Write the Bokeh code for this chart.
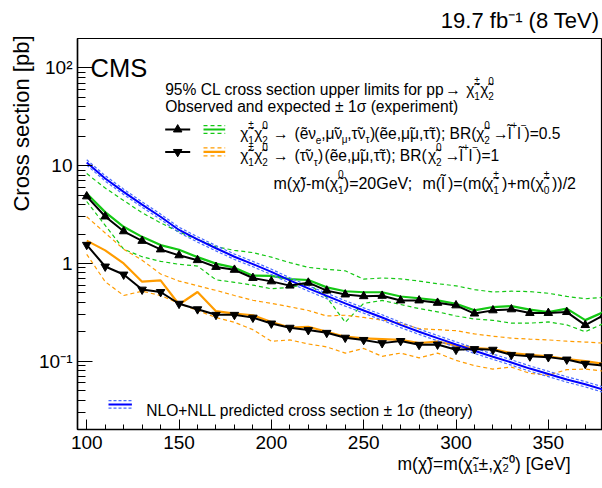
import math
from bokeh.plotting import figure
from bokeh.models import Label, FixedTicker, CustomJSTickFormatter, Range1d, Title
from bokeh.embed import file_html
from bokeh.resources import INLINE

# ---------------- data ----------------
mass = [100, 110, 120, 130, 140, 150, 160, 170, 180, 190, 200, 210, 220, 230, 240,
        250, 260, 270, 280, 290, 300, 310, 320, 330, 340, 350, 360, 370, 380]

# BR(chi2 -> ll) = 0.5: observed (black, up triangles), expected (green) and +-1 sigma
obs_br05 = [4.85, 3.02, 2.13, 1.70, 1.39, 1.21, 1.08, 0.92, 0.86, 0.71, 0.655, 0.593, 0.635, 0.527, 0.481,
            0.462, 0.466, 0.418, 0.418, 0.395, 0.372, 0.307, 0.331, 0.339, 0.311, 0.311, 0.318, 0.234, 0.295]
exp_br05 = [5.19, 3.35, 2.37, 1.87, 1.54, 1.38, 1.16, 0.995, 0.905, 0.75, 0.745, 0.692, 0.677, 0.569, 0.519,
            0.507, 0.507, 0.459, 0.44, 0.418, 0.387, 0.331, 0.358, 0.366, 0.337, 0.318, 0.345, 0.263, 0.318]
exp_br05_up = [8.3, 5.9, 4.4, 3.3, 2.6, 2.1, 1.75, 1.48, 1.36, 1.29, 1.16, 1.02, 0.91, 0.87, 0.84,
               0.69, 0.71, 0.695, 0.66, 0.62, 0.59, 0.54, 0.51, 0.52, 0.515, 0.495, 0.46, 0.435, 0.45]
exp_br05_dn = [4.3, 2.45, 1.4, 1.17, 1.05, 0.98, 0.94, 0.68, 0.64, 0.60, 0.55, 0.57, 0.62, 0.45, 0.25,
               0.39, 0.418, 0.38, 0.345, 0.32, 0.29, 0.27, 0.262, 0.245, 0.245, 0.252, 0.235, 0.20, 0.243]

# BR(chi2 -> ll) = 1: observed (black, down triangles), expected (orange) and +-1 sigma
obs_br1 = [1.55, 0.93, 0.77, 0.54, 0.51, 0.387, 0.34, 0.298, 0.298, 0.279, 0.243, 0.22, 0.208, 0.195, 0.174,
           0.165, 0.153, 0.161, 0.147, 0.148, 0.131, 0.133, 0.131, 0.116, 0.112, 0.11, 0.104, 0.094, 0.09]
exp_br1 = [1.71, 1.36, 1.0, 0.65, 0.67, 0.38, 0.51, 0.325, 0.307, 0.295, 0.252, 0.221, 0.225, 0.2, 0.178,
           0.171, 0.168, 0.165, 0.153, 0.159, 0.144, 0.136, 0.133, 0.121, 0.116, 0.112, 0.105, 0.10, 0.094]
exp_br1_up = [3.0, 2.05, 1.40, 1.08, 0.78, 0.66, 0.59, 0.53, 0.47, 0.42, 0.39, 0.36, 0.33, 0.29, 0.295,
              0.28, 0.263, 0.245, 0.215, 0.21, 0.205, 0.19, 0.18, 0.172, 0.168, 0.165, 0.16, 0.157, 0.153]
exp_br1_dn = [1.24, 0.65, 0.47, 0.52, 0.47, 0.39, 0.33, 0.28, 0.25, 0.21, 0.16, 0.165, 0.15, 0.14, 0.121,
              0.135, 0.112, 0.121, 0.108, 0.121, 0.102, 0.09, 0.083, 0.087, 0.075, 0.072, 0.082, 0.083, 0.079]

# NLO+NLL theory cross section and its relative uncertainty
theory = [10.8, 7.4, 5.4, 4.0, 3.0, 2.2, 1.76, 1.43, 1.17, 0.985, 0.82, 0.67, 0.555, 0.465, 0.39,
          0.33, 0.28, 0.235, 0.20, 0.172, 0.148, 0.128, 0.111, 0.097, 0.084, 0.074, 0.065, 0.058, 0.051]
theory_rel_unc = [0.065, 0.065, 0.065, 0.065, 0.065, 0.065, 0.065, 0.065, 0.065, 0.065, 0.065, 0.065,
                  0.065, 0.065, 0.065, 0.065, 0.065, 0.065, 0.065, 0.065, 0.065, 0.065, 0.065, 0.065,
                  0.065, 0.065, 0.065, 0.065, 0.065]

x_major_ticks = [100, 150, 200, 250, 300, 350]
x_minor_ticks = [110, 120, 130, 140, 160, 170, 180, 190, 210, 220, 230, 240, 260, 270, 280, 290,
                 310, 320, 330, 340, 360, 370]
y_tick_values = [0.1, 1, 10, 100]
y_tick_labels = ["10\u207b\u00b9", "1", "10", "10\u00b2"]
y_minor_ticks = [0.02, 0.03, 0.04, 0.05, 0.06, 0.07, 0.08, 0.09,
                 0.2, 0.3, 0.4, 0.5, 0.6, 0.7, 0.8, 0.9,
                 2, 3, 4, 5, 6, 7, 8, 9,
                 20, 30, 40, 50, 60, 70, 80, 90, 200]

lumi_text = "19.7 fb\u207b\u00b9 (8 TeV)"
y_title = "Cross section [pb]"
x_title = "m(\u03c7\u0303)=m(\u03c7\u0303\u2081\u00b1,\u03c7\u0303\u2082\u2070) [GeV]"

theory_up = [t * (1 + u) for t, u in zip(theory, theory_rel_unc)]
theory_dn = [t / (1 + u) for t, u in zip(theory, theory_rel_unc)]

# ---------------- layout ----------------
W, H = 602, 488
B_LEFT, B_RIGHT, B_TOP, B_BOTTOM = 77, 0, 35, 59
FW, FH = W - B_LEFT - B_RIGHT, H - B_TOP - B_BOTTOM
X0 = 95.0
X1 = X0 + FW / 1.8464
Y0, Y1 = 0.02, 200.0
LT, LB = math.log10(Y1), math.log10(Y0)

FONT = "Liberation Sans"
BLACK = "#000000"
GREEN = "#14c814"
ORANGE = "#ff9c00"
BLUE = "#0000ff"
BLUE_L = "#4a6cff"
LEG = 15.6  # legend font size


def dx(px):
    return X0 + px * (X1 - X0) / FW


def dy(py):
    return 10 ** (LT - py * (LT - LB) / FH)


p = figure(width=W, height=H, x_range=Range1d(X0, X1), y_range=Range1d(Y0, Y1),
           y_axis_type="log", output_backend="svg", toolbar_location=None,
           min_border_left=B_LEFT, min_border_right=B_RIGHT,
           min_border_top=B_TOP, min_border_bottom=B_BOTTOM)
p.outline_line_color = BLACK
p.outline_line_width = 1.2
p.xgrid.visible = False
p.ygrid.visible = False
p.background_fill_color = "white"
p.border_fill_color = "white"

# luminosity label as the plot title (top right, outside the frame)
p.title.text = lumi_text
p.title.align = "right"
p.title.offset = 3
p.title.standoff = 11
p.title.text_font = FONT
p.title.text_font_size = "22px"
p.title.text_font_style = "normal"
p.title.text_color = BLACK

xa = p.below[0]
xa.ticker = FixedTicker(ticks=x_major_ticks, minor_ticks=x_minor_ticks)
xa.major_tick_in = 10
xa.major_tick_out = 0
xa.minor_tick_in = 5
xa.minor_tick_out = 0
xa.axis_line_width = 1.5
xa.major_tick_line_width = 1
xa.minor_tick_line_width = 1
xa.major_label_text_font = FONT
xa.major_label_text_font_size = "19px"
xa.major_label_text_color = BLACK
xa.major_label_standoff = 6

ya = p.left[0]
ya.ticker = FixedTicker(ticks=y_tick_values, minor_ticks=y_minor_ticks)
ya.formatter = CustomJSTickFormatter(args=dict(vals=y_tick_values, labs=y_tick_labels), code="""
for (let i = 0; i < vals.length; i++) {
  if (Math.abs(Math.log10(vals[i]) - Math.log10(tick)) < 1e-6) return labs[i];
}
return "";
""")
ya.major_tick_in = 15
ya.major_tick_out = 0
ya.minor_tick_in = 8
ya.minor_tick_out = 0
ya.axis_line_width = 1.5
ya.major_tick_line_width = 1
ya.minor_tick_line_width = 1
ya.major_label_text_font = FONT
ya.major_label_text_font_size = "19px"
ya.major_label_text_color = BLACK
ya.major_label_standoff = 5

# axis titles (ROOT style: aligned to the axis ends)
p.add_layout(Title(text=y_title, align="right", offset=-3, standoff=6, text_font=FONT,
                   text_font_size="22px", text_font_style="normal", text_color=BLACK), "left")
p.add_layout(Title(text=x_title, align="right", offset=32, standoff=1, text_font=FONT,
                   text_font_size="17.5px", text_font_style="normal", text_color=BLACK), "below")

# ---------------- curves ----------------
DASH = "4 3"
p.line(mass, exp_br05_up, line_color=GREEN, line_width=1.2, line_dash=DASH)
p.line(mass, exp_br05_dn, line_color=GREEN, line_width=1.2, line_dash=DASH)
p.line(mass, exp_br1_up, line_color=ORANGE, line_width=1.2, line_dash=DASH)
p.line(mass, exp_br1_dn, line_color=ORANGE, line_width=1.2, line_dash=DASH)
p.line(mass, exp_br05, line_color=GREEN, line_width=2.2)
p.line(mass, exp_br1, line_color=ORANGE, line_width=2.2)
p.line(mass, theory_up, line_color=BLUE_L, line_width=1.2, line_dash="3 2")
p.line(mass, theory_dn, line_color=BLUE_L, line_width=1.2, line_dash="3 2")
p.line(mass, theory, line_color=BLUE, line_width=2)
p.line(mass, obs_br05, line_color=BLACK, line_width=2)
p.scatter(mass, obs_br05, marker="triangle", size=8.5, fill_color=BLACK, line_color=BLACK)
p.line(mass, obs_br1, line_color=BLACK, line_width=2)
p.scatter(mass, obs_br1, marker="inverted_triangle", size=8.5, fill_color=BLACK, line_color=BLACK)

# ---------------- rich text helper (labels inside the frame) ----------------
CW = {' ': 278, '%': 889, '(': 333, ')': 333, '+': 584, ',': 278, '-': 333, '.': 278,
      '/': 278, ';': 278, '=': 584, '[': 278, ']': 278, 'B': 667, 'C': 722, 'G': 778, 'L': 556,
      'M': 833, 'N': 722, 'O': 778, 'R': 722, 'S': 667, 'T': 611, 'V': 667, 'E': 667,
      'a': 556, 'b': 556, 'c': 500, 'd': 556, 'e': 556, 'f': 278, 'g': 556, 'h': 556, 'i': 222,
      'k': 500, 'l': 222, 'm': 833, 'n': 556, 'o': 556, 'p': 556, 'r': 333, 's': 500, 't': 278,
      'u': 556, 'v': 500, 'x': 500, 'y': 500, '\u03c7': 520, '\u03bd': 470, '\u03bc': 560,
      '\u03c4': 430, '\u03c3': 600, '\u00b1': 584, '\u2192': 1000, '\u2212': 584, '\u0303': 0,
      '\u2009': 200}
SS, SUP, SUB = 0.64, 0.55, 0.42


def tw(s, size):
    return sum(CW.get(c, 556) for c in s) * size / 1000.0


def put(t, px, py, size, color=BLACK):
    p.add_layout(Label(x=dx(px), y=dy(py), text=t, text_font=FONT,
                       text_font_size="%.1fpx" % size, text_color=color,
                       text_baseline="alphabetic", text_align="left"))


def run_w(r, size):
    if r[0] == "n":
        return tw(r[1], size)
    if r[0] in ("sup", "sub"):
        return tw(r[1], size * SS)
    if r[0] == "ss":
        return max(tw(r[1], size * SS), tw(r[2], size * SS))
    return 0.0


def rich(runs, px, py, size):
    x = px
    for r in runs:
        if r[0] == "at":
            x = r[1]
            continue
        if r[0] == "n":
            put(r[1], x, py, size)
        elif r[0] == "sup":
            put(r[1], x, py - SUP * size, size * SS)
        elif r[0] == "sub":
            put(r[1], x, py + SUB * size, size * SS)
        else:
            if r[1]:
                put(r[1], x, py + SUB * size, size * SS)
            if r[2]:
                put(r[2], x, py - SUP * size, size * SS)
        x += run_w(r, size)


CHI = "\u03c7\u0303"
ARR = "\u2192"
PAIR = [("n", CHI), ("ss", "1", "\u00b1"), ("n", CHI), ("ss", "2", "0")]
header1_runs = [("n", "95% CL cross section upper limits for pp"), ("at", 367.7), ("n", ARR),
                ("at", 388.7)] + PAIR
header2_runs = [("n", "Observed and expected \u00b1 1\u03c3 (experiment)")]
entry1_runs = PAIR + [("at", 195.4), ("n", ARR),
                      ("at", 217.0), ("n", "(e\u0303\u03bd"), ("sub", "e"), ("n", ",\u03bc\u0303\u03bd"),
                      ("sub", "\u03bc"), ("n", ",\u03c4\u0303\u03bd"), ("sub", "\u03c4"), ("n", ")"),
                      ("at", 296.7), ("n", "(e\u0303e,\u03bc\u0303\u03bc,\u03c4\u0303\u03c4); BR("),
                      ("at", 398.7), ("n", CHI), ("ss", "2", "0"),
                      ("at", 415.5), ("n", ARR),
                      ("at", 430.4), ("n", "l\u0303"), ("sup", "+"), ("n", "l"), ("sup", "\u2212"),
                      ("at", 447.0), ("n", ")=0.5")]
entry2_runs = PAIR + [("at", 195.4), ("n", ARR),
                      ("at", 217.0), ("n", "(\u03c4\u0303\u03bd"), ("sub", "\u03c4"), ("n", ")"),
                      ("at", 247.0), ("n", "(e\u0303e,\u03bc\u0303\u03bc,\u03c4\u0303\u03c4); BR("),
                      ("at", 350.4), ("n", CHI), ("ss", "2", "0"),
                      ("at", 367.2), ("n", ARR),
                      ("at", 382.0), ("n", "l\u0303"), ("sup", "+"), ("n", "l"), ("sup", "\u2212"),
                      ("at", 398.7), ("n", ")=1")]
line5_runs = [("n", "m(" + CHI + ")-m(" + CHI), ("ss", "1", "0"), ("n", ")=20GeV;"),
              ("at", 345.0), ("n", "m(l\u0303\u2009)=(m("),
              ("at", 407.5), ("n", CHI), ("ss", "1", "\u00b1"),
              ("at", 424.5), ("n", ")+m("),
              ("at", 458.0), ("n", CHI), ("ss", "0", "\u00b1"),
              ("at", 474.5), ("n", "))/2")]
theory_runs = [("n", "NLO+NLL predicted cross section \u00b1 1\u03c3 (theory)")]

put("CMS", 13, 30, 25.5)
rich(header1_runs, 87.7, 51, LEG)
rich(header2_runs, 87.7, 69, LEG)


def seg(px0, px1, py, color, width, dash="solid"):
    p.line([dx(px0), dx(px1)], [dy(py), dy(py)], line_color=color, line_width=width, line_dash=dash)


# legend entry 1
seg(87.7, 112.7, 91.7, BLACK, 2)
p.scatter([dx(100.2)], [dy(91.7)], marker="triangle", size=8.5, fill_color=BLACK, line_color=BLACK)
seg(126, 147.7, 91.7, GREEN, 2.2)
seg(126, 147.7, 87.7, GREEN, 1.2, DASH)
seg(126, 147.7, 95.7, GREEN, 1.2, DASH)
rich(entry1_runs, 162.7, 95.5, LEG)

# legend entry 2
seg(87.7, 112.7, 114.3, BLACK, 2)
p.scatter([dx(100.2)], [dy(114.3)], marker="inverted_triangle", size=8.5, fill_color=BLACK,
          line_color=BLACK)
seg(126, 147.7, 114.3, ORANGE, 2.2)
seg(126, 147.7, 110.3, ORANGE, 1.2, DASH)
seg(126, 147.7, 118.3, ORANGE, 1.2, DASH)
rich(entry2_runs, 162.7, 118.2, LEG)

rich(line5_runs, 196, 145.7, 16)

# theory legend
seg(31, 54.4, FH - 25.3, BLUE, 2)
seg(31, 54.4, FH - 29.1, BLUE_L, 1.2, "3 2")
seg(31, 54.4, FH - 21.5, BLUE_L, 1.2, "3 2")
rich(theory_runs, 68.7, FH - 19.4, LEG)

open("out.html", "w").write(file_html(p, INLINE))
